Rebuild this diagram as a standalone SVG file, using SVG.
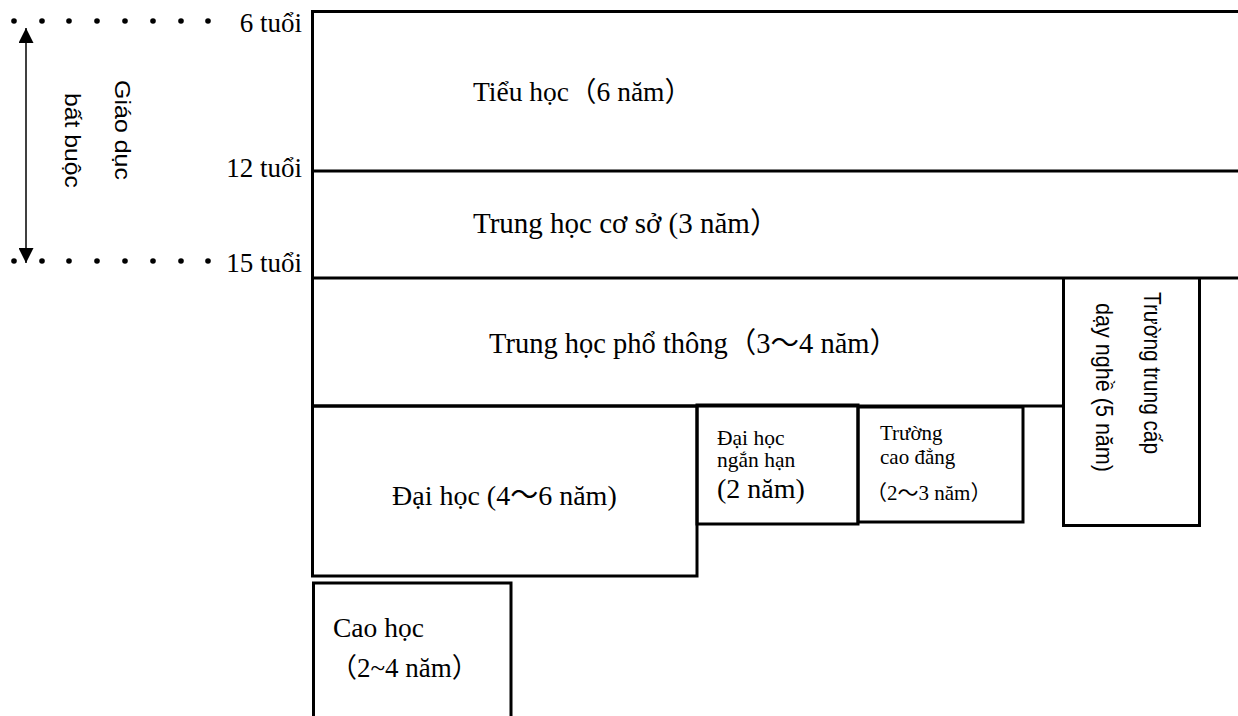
<svg xmlns="http://www.w3.org/2000/svg" width="1238" height="716" viewBox="0 0 1238 716">
<style>
.box{fill:none;stroke:#000;stroke-width:3}
.ln{stroke:#000;stroke-width:3;fill:none}
.t{font-family:"Liberation Serif","Noto Sans CJK JP",serif;fill:#000}
.s{font-family:"Liberation Sans","Noto Sans",sans-serif;fill:#000}
.dot{fill:#000}
</style>
<defs>
<marker id="ah" viewBox="0 0 15 15" refX="15" refY="7.5" markerWidth="15" markerHeight="15" markerUnits="userSpaceOnUse" orient="auto-start-reverse">
<path d="M0,0 L15,7.5 L0,15 Z" fill="#000"/>
</marker>
</defs>
<rect width="1238" height="716" fill="#fff"/>

<g id="age-markers">
<g class="dot">
<circle cx="14" cy="21" r="2.8"/><circle cx="42" cy="21" r="2.8"/><circle cx="69" cy="21" r="2.8"/><circle cx="97" cy="21" r="2.8"/><circle cx="125" cy="21" r="2.8"/><circle cx="153" cy="21" r="2.8"/><circle cx="181" cy="21" r="2.8"/><circle cx="208" cy="21" r="2.8"/>
<circle cx="14" cy="261" r="2.8"/><circle cx="42" cy="261" r="2.8"/><circle cx="69" cy="261" r="2.8"/><circle cx="97" cy="261" r="2.8"/><circle cx="125" cy="261" r="2.8"/><circle cx="153" cy="261" r="2.8"/><circle cx="181" cy="261" r="2.8"/><circle cx="208" cy="261" r="2.8"/>
</g>
<text class="t" x="302" y="32" font-size="27" text-anchor="end">6 tuổi</text>
<text class="t" x="302" y="177" font-size="27" text-anchor="end">12 tuổi</text>
<text class="t" x="302" y="272" font-size="27" text-anchor="end">15 tuổi</text>
</g>

<g id="connectors">
<line x1="26" y1="28" x2="26" y2="263" stroke="#000" stroke-width="1.5" marker-start="url(#ah)" marker-end="url(#ah)"/>
</g>

<g id="compulsory-label">
<text class="s" font-size="22" transform="translate(115,80) rotate(90)" textLength="100" lengthAdjust="spacingAndGlyphs">Giáo dục</text>
<text class="s" font-size="22" transform="translate(65,93) rotate(90)" textLength="95" lengthAdjust="spacingAndGlyphs">bất buộc</text>
</g>

<g id="frame">
<path class="ln" d="M1238,11.5 H312.5 V406"/>
<line class="ln" x1="312" y1="171" x2="1238" y2="171"/>
<line class="ln" x1="312" y1="278" x2="1238" y2="278"/>
<line class="ln" x1="312" y1="406" x2="1063" y2="406"/>
</g>

<g id="tieu-hoc">
<text class="t" x="473" y="101" font-size="27.5">Tiểu học（6 năm）</text>
</g>

<g id="trung-hoc-co-so">
<text class="t" x="473" y="233" font-size="29">Trung học cơ sở (3 năm）</text>
</g>

<g id="trung-hoc-pho-thong">
<text class="t" x="489" y="353" font-size="28.5">Trung học phổ thông（3〜4 năm）</text>
</g>

<g id="trung-cap">
<path class="ln" d="M1063.5,278 V525.5 H1199.5 V278"/>
<text class="s" font-size="24" transform="translate(1144,292) rotate(90)" textLength="162" lengthAdjust="spacingAndGlyphs">Trường trung cấp</text>
<text class="s" font-size="24" transform="translate(1096,303) rotate(90)" textLength="169" lengthAdjust="spacingAndGlyphs">dạy nghề (5 năm)</text>
</g>

<g id="dai-hoc">
<rect class="box" x="312.5" y="406" width="384.5" height="170"/>
<text class="t" x="392" y="505" font-size="28">Đại học (4〜6 năm)</text>
</g>

<g id="dai-hoc-ngan-han">
<rect class="box" x="697" y="405" width="161" height="119"/>
<text class="t" x="717" y="445" font-size="21.5">Đại học</text>
<text class="t" x="717" y="467" font-size="21.5">ngắn hạn</text>
<text class="t" x="717" y="498" font-size="28">(2 năm)</text>
</g>

<g id="cao-dang">
<rect class="box" x="858" y="407" width="165" height="115"/>
<text class="t" x="880" y="440" font-size="21">Trường</text>
<text class="t" x="880" y="464" font-size="21">cao đẳng</text>
<text class="t" x="866" y="500" font-size="21">（2〜3 năm）</text>
</g>

<g id="cao-hoc">
<path class="ln" d="M313.5,716 V583 H511 V716"/>
<text class="t" x="333" y="637" font-size="27.5">Cao học</text>
<text class="t" x="330" y="677" font-size="27">（2~4 năm）</text>
</g>
</svg>
